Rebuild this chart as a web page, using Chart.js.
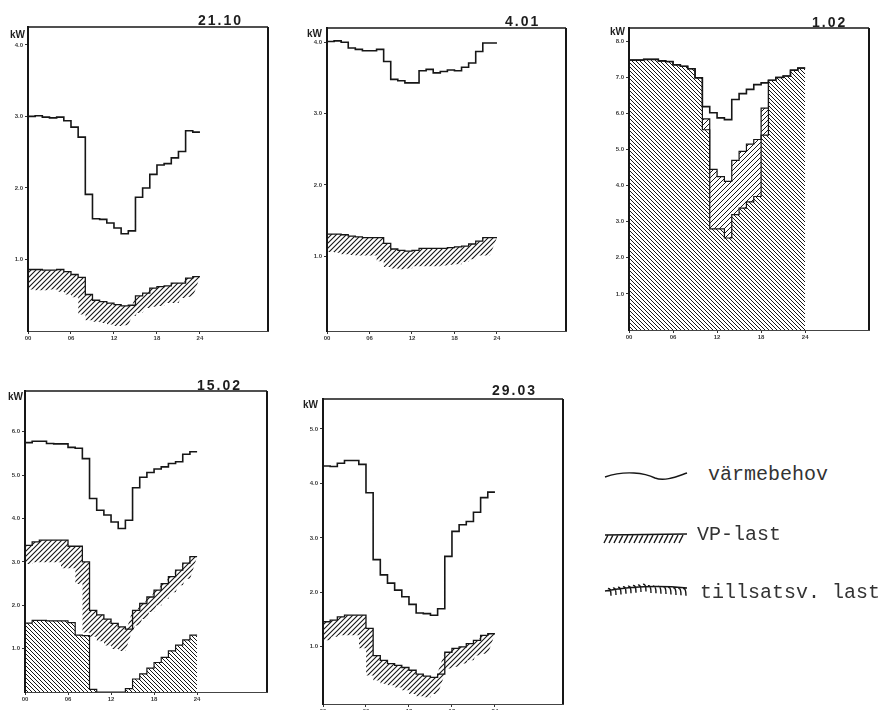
<!DOCTYPE html>
<html>
<head>
<meta charset="utf-8">
<script src="https://cdn.jsdelivr.net/npm/chart.js@4.4.0/dist/chart.umd.min.js"></script>
<style>
  body { margin: 0; background: #fff; width: 894px; height: 710px; overflow: hidden; position: relative; }
  canvas.p { position: absolute; }
  .t { position: absolute; font: bold 14px "Liberation Sans", Arial, sans-serif; letter-spacing: 2px; color: #1e1e1e; line-height: 14px; }
  .kw { position: absolute; font: bold 10px "Liberation Sans", Arial, sans-serif; color: #1e1e1e; line-height: 10px; }
  .lg { position: absolute; font: 20px "Liberation Mono", "DejaVu Sans Mono", monospace; color: #333; line-height: 20px; }
</style>
</head>
<body>
<canvas class="p" id="c1"></canvas>
<canvas class="p" id="c2"></canvas>
<canvas class="p" id="c3"></canvas>
<canvas class="p" id="c4"></canvas>
<canvas class="p" id="c5"></canvas>
<canvas id="leg" width="100" height="150" style="position:absolute;left:600px;top:460px"></canvas>

<div class="t" style="left:198px;top:13px">21.10</div>
<div class="t" style="left:505px;top:14px">4.01</div>
<div class="t" style="left:812px;top:15px">1.02</div>
<div class="t" style="left:197px;top:378px">15.02</div>
<div class="t" style="left:492px;top:383px">29.03</div>

<div class="kw" style="left:10px;top:30px">kW</div>
<div class="kw" style="left:307px;top:29px">kW</div>
<div class="kw" style="left:610px;top:27px">kW</div>
<div class="kw" style="left:8px;top:392px">kW</div>
<div class="kw" style="left:303px;top:400px">kW</div>

<div class="lg" style="left:708px;top:465px">värmebehov</div>
<div class="lg" style="left:697px;top:525px">VP-last</div>
<div class="lg" style="left:700px;top:583px">tillsatsv. last</div>

<script>
// hour of day (value holds until next hour)
const hours = [0,1,2,3,4,5,6,7,8,9,10,11,12,13,14,15,16,17,18,19,20,21,22,23];
const dayEnd = 24;
const xTicks = [0, 6, 12, 18, 24];
const xLabels = ['00', '06', '12', '18', '24'];

// 21.10
const demand1 = [3.0,3.01,2.99,2.98,2.99,2.94,2.85,2.71,1.91,1.57,1.56,1.51,1.44,1.36,1.40,1.87,2.0,2.19,2.32,2.34,2.42,2.51,2.80,2.78];
const vp1     = [0.86,0.86,0.85,0.85,0.86,0.83,0.79,0.75,0.51,0.43,0.41,0.39,0.37,0.35,0.36,0.49,0.53,0.60,0.62,0.63,0.67,0.67,0.74,0.76];
const yTicks1 = [1, 2, 3, 4];

// 4.01
const demand2 = [4.01,4.02,4.0,3.92,3.9,3.88,3.88,3.9,3.73,3.48,3.46,3.43,3.43,3.6,3.62,3.57,3.59,3.61,3.6,3.65,3.71,3.87,3.99,3.99];
const vp2     = [1.31,1.31,1.30,1.28,1.27,1.26,1.26,1.26,1.18,1.10,1.08,1.07,1.08,1.11,1.11,1.11,1.11,1.12,1.13,1.14,1.17,1.21,1.26,1.26];
const yTicks2 = [1, 2, 3, 4];

// 1.02
const demand3 = [7.48,7.48,7.5,7.5,7.46,7.44,7.35,7.31,7.24,6.99,6.19,6.02,5.88,5.83,6.39,6.55,6.67,6.8,6.85,6.92,7.0,7.04,7.2,7.26];
const supp3   = [7.48,7.48,7.5,7.5,7.46,7.44,7.35,7.31,7.24,6.99,5.55,2.8,2.8,2.55,3.2,3.38,3.55,3.7,5.4,6.92,7.0,7.04,7.2,7.26];
const vp3     = [null,null,null,null,null,null,null,null,null,null,5.85,4.45,4.25,4.12,4.7,4.95,5.15,5.28,6.15,6.92,null,null,null,null];
const yTicks3 = [1, 2, 3, 4, 5, 6, 7, 8];

// 15.02
const demand4 = [5.75,5.78,5.78,5.73,5.72,5.72,5.64,5.62,5.38,4.46,4.19,4.08,3.92,3.77,3.96,4.71,4.95,5.06,5.14,5.19,5.27,5.31,5.48,5.54];
const vp4     = [3.38,3.46,3.5,3.5,3.5,3.5,3.36,3.36,3.0,1.88,1.78,1.68,1.58,1.5,1.45,1.88,2.04,2.19,2.35,2.5,2.66,2.81,2.97,3.12];
const supp4   = [1.59,1.65,1.65,1.64,1.64,1.64,1.6,1.31,1.3,0.06,0,0,0,0,0.08,0.3,0.42,0.55,0.68,0.8,0.95,1.08,1.2,1.31];
const yTicks4 = [1, 2, 3, 4, 5, 6];

// 29.03
const demand5 = [4.32,4.31,4.37,4.42,4.42,4.35,3.83,2.6,2.32,2.17,2.04,1.92,1.78,1.62,1.61,1.58,1.70,2.66,3.12,3.24,3.30,3.47,3.74,3.84];
const vp5     = [1.46,1.49,1.55,1.58,1.58,1.58,1.34,0.84,0.75,0.69,0.66,0.62,0.57,0.5,0.46,0.44,0.5,0.9,0.97,1.0,1.06,1.12,1.21,1.24];
const yTicks5 = [1, 2, 3, 4, 5];

const ink = '#161616';

function hatch(dir, s, w) {
    let c = document.createElement('canvas');
    c.width = s; c.height = s;
    let g = c.getContext('2d');
    g.strokeStyle = ink;
    g.lineWidth = w;
    g.beginPath();
    if (dir === '/') {
        g.moveTo(-1, s + 1); g.lineTo(s + 1, -1);
        g.moveTo(-1, 1); g.lineTo(1, -1);
        g.moveTo(s - 1, s + 1); g.lineTo(s + 1, s - 1);
    } else {
        g.moveTo(-1, -1); g.lineTo(s + 1, s + 1);
        g.moveTo(s - 1, -1); g.lineTo(s + 1, 1);
        g.moveTo(-1, s - 1); g.lineTo(1, s + 1);
    }
    g.stroke();
    return g.createPattern(c, 'repeat');
}

// steps: value at hour h holds until h+1, last value held to 24
function steps(vals) {
    let out = vals.map((v, i) => ({x: hours[i], y: v}));
    out.push({x: dayEnd, y: vals[vals.length - 1]});
    return out;
}

// hatched band hanging under a stepped line (VP-last symbol)
const bandPlugin = {
    id: 'band',
    beforeDatasetDraw(chart, args) {
        const ds = chart.data.datasets[args.index];
        if (!ds.band) return;
        const pts = args.meta.data;
        const a = chart.chartArea;
        const ox = ds.band[0], oy = ds.band[1];
        let v = [];
        pts.forEach((p, i) => {
            if (i > 0) v.push([p.x, pts[i - 1].y]);
            v.push([p.x, p.y]);
        });
        const ctx = chart.ctx;
        ctx.save();
        ctx.beginPath();
        ctx.rect(a.left, a.top, a.right - a.left, a.bottom - a.top);
        ctx.clip();
        ctx.beginPath();
        for (let i = 1; i < v.length; i++) {
            const A = v[i - 1], B = v[i];
            let q = [A, B, [B[0] + ox, B[1] + oy], [A[0] + ox, A[1] + oy]];
            if ((B[0] - A[0]) * oy - (B[1] - A[1]) * ox < 0) q.reverse();
            ctx.moveTo(q[0][0], q[0][1]);
            for (let k = 1; k < 4; k++) ctx.lineTo(q[k][0], q[k][1]);
            ctx.closePath();
        }
        ctx.fillStyle = ds.bandFill;
        ctx.fill('nonzero');
        ctx.restore();
    }
};

// top and right edge of the plot box
const framePlugin = {
    id: 'frame',
    afterDraw(chart) {
        const a = chart.chartArea, ctx = chart.ctx;
        ctx.save();
        ctx.strokeStyle = ink;
        ctx.lineWidth = 1.5;
        ctx.beginPath();
        ctx.moveTo(a.left, a.top);
        ctx.lineTo(a.right, a.top);
        ctx.stroke();
        ctx.lineWidth = 2;
        ctx.beginPath();
        ctx.moveTo(a.right, a.top);
        ctx.lineTo(a.right, a.bottom);
        ctx.stroke();
        ctx.restore();
    }
};

function demandSet(vals) {
    return { data: steps(vals), stepped: true, borderColor: ink, borderWidth: 1.6,
             pointRadius: 0, fill: false };
}
function vpSet(vals, depth) {
    return { data: steps(vals), stepped: true, borderColor: ink, borderWidth: 1.3,
             pointRadius: 0, fill: false, band: [-7, depth], bandFill: hatch('/', 5, 1.1) };
}
function suppSet(vals) {
    return { data: steps(vals), stepped: true, borderColor: ink, borderWidth: 1.2,
             pointRadius: 0, fill: 'origin', backgroundColor: hatch('\\', 4, 1) };
}

function makePanel(id, box, yMin, yMax, xMax, yTicks, datasets) {
    let canvas = document.getElementById(id);
    canvas.width = box.R - box.L + 34;
    canvas.height = box.B - box.T + 22;
    canvas.style.left = (box.L - 28) + 'px';
    canvas.style.top = (box.T - 6) + 'px';
    let tickFont = { family: 'Liberation Sans', size: 6, weight: 'bold' };
    return new Chart(canvas.getContext('2d'), {
        type: 'line',
        data: { datasets: datasets },
        plugins: [bandPlugin, framePlugin],
        options: {
            responsive: false,
            animation: false,
            layout: { padding: { left: 0, top: 6, right: 6, bottom: 0 } },
            plugins: { legend: { display: false }, tooltip: { enabled: false } },
            scales: {
                x: {
                    type: 'linear', min: 0, max: xMax,
                    afterBuildTicks: s => { s.ticks = xTicks.map(v => ({ value: v })); },
                    afterFit: s => { s.height = 16; },
                    ticks: { autoSkip: false, maxRotation: 0, padding: 1, color: '#3a3a3a', font: tickFont,
                             callback: v => xLabels[xTicks.indexOf(v)] },
                    grid: { drawOnChartArea: false, drawTicks: true, tickLength: 3, color: '#333' },
                    border: { display: true, color: '#444', width: 1, dash: [5, 2] }
                },
                y: {
                    min: yMin, max: yMax,
                    afterBuildTicks: s => { s.ticks = yTicks.map(v => ({ value: v })); },
                    afterFit: s => { s.width = 28; },
                    ticks: { padding: 2, color: '#3a3a3a', font: tickFont, callback: v => v.toFixed(1) },
                    grid: { drawOnChartArea: false, drawTicks: true, tickLength: 3, color: '#333' },
                    border: { display: true, color: ink, width: 2 }
                }
            }
        }
    });
}

makePanel('c1', {L: 28, T: 27, R: 268, B: 331}, 0, 4.25, 33.5, yTicks1,
    [demandSet(demand1), vpSet(vp1, 20)]);
makePanel('c2', {L: 327, T: 28, R: 566, B: 331}, -0.05, 4.2, 33.75, yTicks2,
    [demandSet(demand2), vpSet(vp2, 18)]);
makePanel('c3', {L: 629, T: 28, R: 869, B: 330}, 0, 8.37, 32.7, yTicks3,
    [demandSet(demand3), suppSet(supp3),
     { data: steps(vp3), stepped: true, borderColor: ink, borderWidth: 1.2, pointRadius: 0,
       fill: { target: 1 }, backgroundColor: hatch('/', 5, 1) }]);
makePanel('c4', {L: 25, T: 391, R: 267, B: 692}, 0, 6.94, 33.75, yTicks4,
    [demandSet(demand4), vpSet(vp4, 22), suppSet(supp4)]);
makePanel('c5', {L: 323, T: 399, R: 563, B: 704}, -0.05, 5.55, 33.5, yTicks5,
    [demandSet(demand5), vpSet(vp5, 20)]);

// legend symbols
(function () {
    let g = document.getElementById('leg').getContext('2d');
    g.strokeStyle = ink;
    g.lineWidth = 1.4;
    g.beginPath();
    g.moveTo(5, 17);
    g.bezierCurveTo(25, 10, 45, 13, 55, 18);
    g.bezierCurveTo(65, 22, 78, 16, 87, 13);
    g.stroke();

    g.beginPath();
    g.moveTo(5, 75); g.lineTo(87, 74);
    for (let x = 8; x <= 86; x += 5) { g.moveTo(x, 75); g.lineTo(x - 4, 83); }
    g.stroke();

    g.beginPath();
    g.moveTo(5, 131);
    g.quadraticCurveTo(45, 124, 87, 128);
    for (let x = 8; x <= 84; x += 5) {
        let y = 129 - (x < 45 ? (x - 5) * 0.12 : (87 - x) * 0.08);
        g.moveTo(x, y); g.quadraticCurveTo(x + 3, y - 1, x + 3, y + 7);
    }
    g.stroke();
})();
</script>
</body>
</html>
